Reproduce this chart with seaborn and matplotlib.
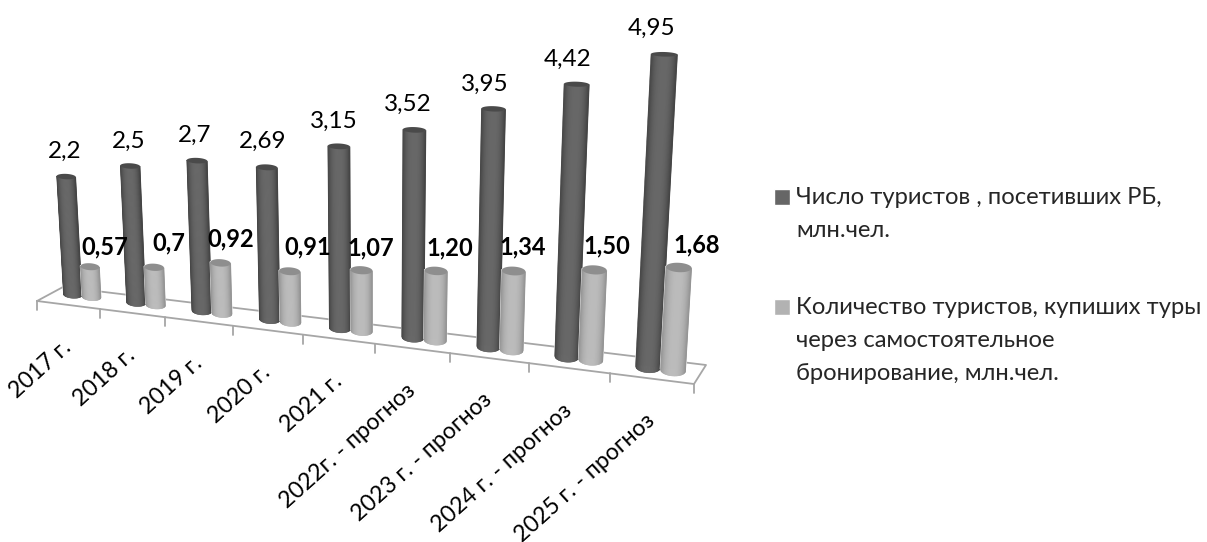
import numpy as np
import pandas as pd
import matplotlib
matplotlib.use("Agg")
import matplotlib.pyplot as plt
import matplotlib.transforms as mtransforms
from matplotlib.collections import PolyCollection
from matplotlib.legend_handler import HandlerPatch
from matplotlib.patches import Polygon, Rectangle
import seaborn as sns

# ---- data ----
categories = ["2017 г.", "2018 г.", "2019 г.", "2020 г.", "2021 г.",
              "2022г. - прогноз", "2023 г. - прогноз", "2024 г. - прогноз", "2025 г. - прогноз"]
series_a_name = "Число туристов , посетивших РБ,\nмлн.чел."
series_b_name = "Количество туристов, купиших туры\nчерез самостоятельное\nбронирование, млн.чел."
series_a = [2.2, 2.5, 2.7, 2.69, 3.15, 3.52, 3.95, 4.42, 4.95]
series_b = [0.57, 0.7, 0.92, 0.91, 1.07, 1.20, 1.34, 1.50, 1.68]
labels_a = ["2,2", "2,5", "2,7", "2,69", "3,15", "3,52", "3,95", "4,42", "4,95"]
labels_b = ["0,57", "0,7", "0,92", "0,91", "1,07", "1,20", "1,34", "1,50", "1,68"]

# ---- style / layout ----
W, H_PX = 1207, 542
FONT = ["Lato", "Open Sans", "DejaVu Sans"]
DARK, LIGHT = "#666666", "#b2b2b2"
GRID = "#a6a6a6"
BAR_W = 0.6
DARK_OFF = [(-1, -25), (-1, -25), (-2, -25), (-4, -26), (-5, -25), (-7, -26), (-9, -25), (-9, -25), (-13, -26)]
LIGHT_OFF = [(15, -20), (15, -24), (10, -24), (18, -24), (9, -22), (14, -23), (9, -24), (12, -24), (18, -23)]
IDENT = mtransforms.IdentityTransform()

sns.set_theme(style="white")
plt.rcParams["font.family"] = FONT


class Homography(mtransforms.Transform):
    """Perspective projection of the (category, value) plane to image pixels."""
    input_dims = output_dims = 2
    is_separable = False
    has_inverse = False

    def __init__(self, src, dst):
        super().__init__()
        A, b = [], []
        for (u, v), (x, y) in zip(src, dst):
            A.append([u, v, 1, 0, 0, 0, -u * x, -v * x]); b.append(x)
            A.append([0, 0, 0, u, v, 1, -u * y, -v * y]); b.append(y)
        sol = np.linalg.lstsq(np.array(A, float), np.array(b, float), rcond=None)[0]
        self.m = np.append(sol, 1).reshape(3, 3)

    def transform_non_affine(self, values):
        values = np.asarray(values, float)
        p = np.column_stack([values, np.ones(len(values))]) @ self.m.T
        return p[:, :2] / p[:, 2:3]


off = BAR_W / 4
# calibration of the view: bar index -> foot and head of the cylinder in the image
calib_a = {0: ((72, 293), (67, 178)), 3: ((269, 318), (267, 167)), 4: ((341, 328), (339, 146)),
           6: ((489, 347), (494, 108)), 8: ((648, 367), (664, 53))}
calib_b = {0: ((91, 296), (90, 269)), 3: ((290, 321), (289, 273)), 4: ((362, 330), (362, 271)),
           6: ((513, 349), (513, 272)), 8: ((673, 371), (677, 269))}
src, dst = [], []
for calib, vals, du in [(calib_a, series_a, -off), (calib_b, series_b, off)]:
    for i, (foot, head) in calib.items():
        src += [(i + du, 0.0), (i + du, vals[i])]
        dst += [foot, head]
proj = Homography(src, dst)
pix = mtransforms.Affine2D().scale(1, -1).translate(0, H_PX)
world = proj + pix

df = pd.DataFrame({
    "Год": categories * 2,
    "Серия": [series_a_name] * len(categories) + [series_b_name] * len(categories),
    "млн": series_a + series_b,
})

fig = plt.figure(figsize=(W / 100, H_PX / 100), dpi=100)
ax = fig.add_axes([0, 0, 1, 1])
sns.barplot(data=df, x="Год", y="млн", hue="Серия", palette=[DARK, LIGHT],
            width=BAR_W, gap=0, saturation=1, ax=ax)
handles, leg_labels = ax.get_legend_handles_labels()
ax.set_axis_off()


def ramp(center, edge, t):
    k = (1 - np.abs(t) ** 2.6)
    return center * k + edge * (1 - k)


def squash(y):
    return 0.17 + (y - 50) * 0.0009


def draw_cylinder(rect, center, edge, cap, z):
    x0, w, h = rect.get_x(), rect.get_width(), rect.get_height()
    tl, tr = proj.transform(np.array([(x0, h), (x0 + w, h)]))
    bl, br = proj.transform(np.array([(x0, 0.0), (x0 + w, 0.0)]))
    tc, bc = (tl + tr) / 2, (bl + br) / 2
    ta, ba = (tr - tl) / 2 * [1, 0.5], (br - bl) / 2 * [1, 0.5]
    tb = np.hypot(*ta) * squash(tc[1])
    bb = np.hypot(*ba) * squash(bc[1])
    ts = np.linspace(-1, 1, 41)
    polys, cols = [], []
    for t0, t1 in zip(ts[:-1], ts[1:]):
        pts = [tc + t0 * ta + [0, tb * np.sqrt(1 - t0 ** 2)],
               tc + t1 * ta + [0, tb * np.sqrt(1 - t1 ** 2)],
               bc + t1 * ba + [0, bb * np.sqrt(1 - t1 ** 2)],
               bc + t0 * ba + [0, bb * np.sqrt(1 - t0 ** 2)]]
        polys.append(pix.transform(np.array(pts)))
        g = ramp(center, edge, (t0 + t1) / 2) / 255
        cols.append((g, g, g))
    ax.add_collection(PolyCollection(polys, facecolors=cols, edgecolors=cols, linewidths=0.4,
                                     zorder=z, clip_on=False, transform=IDENT), autolim=False)
    th = np.linspace(0, 2 * np.pi, 60)
    ring = np.array([tc + np.cos(a) * ta + [0, tb * np.sin(a)] for a in th])
    g = cap / 255
    ax.add_patch(Polygon(pix.transform(ring), closed=True, facecolor=(g, g, g), edgecolor="none",
                         zorder=z + 0.1, clip_on=False, transform=IDENT))


for s, (cont, (c, e, cp)) in enumerate(zip(ax.containers, [(104, 66, 74), (188, 146, 142)])):
    for i, rect in enumerate(cont):
        rect.set_transform(world)
        rect.set_clip_on(False)
        rect.set_zorder(2 + 2 * i + s * 0.5)
        draw_cylinder(rect, c, e, cp, 2.1 + 2 * i + s * 0.5)

# value labels
for cont, texts, offs, weight, size in [(ax.containers[0], labels_a, DARK_OFF, "normal", 17.5),
                                        (ax.containers[1], labels_b, LIGHT_OFF, "bold", 17)]:
    for rect, txt, (dx, dy) in zip(cont, texts, offs):
        cx, cy = proj.transform(np.array([(rect.get_x() + rect.get_width() / 2, rect.get_height())]))[0]
        px, py = pix.transform(np.array([(cx + dx, cy + dy)]))[0]
        ax.text(px, py, txt, transform=IDENT, ha="center", va="center",
                fontsize=size, fontweight=weight, color="black", zorder=60, clip_on=False)


# floor of the chart
def edge_x(k):
    return 37 + 61.94 * k / (1 - 0.01684 * k)


def edge_y(x):
    return 301 + (x - 37) * 0.1263


floor = [(37, 301), (63, 287), (706, 365), (694, 384), (37, 301)]
pts = pix.transform(np.array(floor, float))
ax.plot(pts[:, 0], pts[:, 1], color=GRID, lw=1.3, transform=IDENT, zorder=1, clip_on=False)
for k in range(10):
    x = edge_x(k)
    seg = pix.transform(np.array([(x, edge_y(x)), (x, edge_y(x) + 9)]))
    ax.plot(seg[:, 0], seg[:, 1], color=GRID, lw=1.3, transform=IDENT, zorder=1, clip_on=False)

# category labels
for i, cat in enumerate(categories):
    x = edge_x(i + 0.5)
    px, py = pix.transform(np.array([(x, edge_y(x) + 39)]))[0]
    ax.text(px, py, cat, transform=IDENT, rotation=42,
            rotation_mode="anchor", ha="right", va="center", fontsize=16.7, color="black", clip_on=False)


# legend swatches sit level with the first line of a multi-line label
def raised_swatch(lift):
    def make(legend, orig_handle, xdescent, ydescent, width, height, fontsize):
        return Rectangle((-xdescent, -ydescent + lift), width, height)
    return HandlerPatch(patch_func=make)


leg = ax.legend(handles, leg_labels, loc="upper left", bbox_to_anchor=(774, H_PX - 187), bbox_transform=IDENT,
                frameon=False, fontsize=17.1, labelspacing=2.35, handlelength=0.66, handleheight=0.66,
                handletextpad=0.28, borderpad=0, borderaxespad=0, alignment="left",
                handler_map={handles[0]: raised_swatch(12.1), handles[1]: raised_swatch(24.1)})
for t in leg.get_texts():
    t.set_linespacing(1.71)

fig.savefig("out.png", dpi=100, facecolor="white")
